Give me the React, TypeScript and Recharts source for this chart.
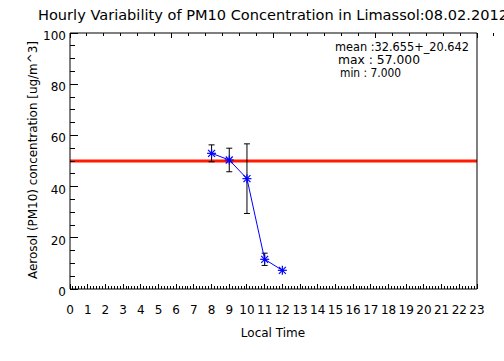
import { ComposedChart, ErrorBar, Line, ReferenceLine, XAxis, YAxis } from "recharts";

// hourly means (ug/m3) and their spread
const hours = [8, 9, 10, 11, 12];
const pm10 = [53.0, 50.4, 43.1, 11.6, 7.3];
const spread = [3.3, 4.6, 13.6, 2.4, null];

const limitValue = 50;
const hourTicks = Array.from({ length: 24 }, (_, i) => i);
const xMinorTicks = Array.from({ length: 23 * 6 + 1 }, (_, i) => i / 6);
const yMinorTicks = Array.from({ length: 21 }, (_, i) => i * 5);

const title = "Hourly Variability of PM10 Concentration in Limassol:08.02.2012";
const statLines = ["mean :32.655+_20.642", "max : 57.000", "min : 7.000"];
const statWidths = [134, 82, 61];

const data = hours.map((h, i) => ({ hour: h, pm10: pm10[i], err: spread[i] }));

const font = "DejaVu Sans, sans-serif";
const W = 504;
const H = 361;

const BottomTick = (props: any) => {
  const { x, y, index } = props;
  const major = index % 6 === 0;
  return (
    <g>
      <line x1={x} y1={y} x2={x} y2={y - (major ? 5 : 3)} stroke="#000" shapeRendering="crispEdges" />
      {major && (
        <text x={x} y={y + 25} textAnchor="middle" fontSize={12} fontFamily={font} fill="#000">
          {hourTicks[index / 6]}
        </text>
      )}
    </g>
  );
};

const TopTick = (props: any) => {
  const { x, y, index } = props;
  const major = index % 6 === 0;
  return <line x1={x} y1={y} x2={x} y2={y + (major ? 5 : 3)} stroke="#000" shapeRendering="crispEdges" />;
};

const LeftTick = (props: any) => {
  const { x, y, payload } = props;
  const major = payload.value % 20 === 0;
  return (
    <g>
      <line x1={x} y1={y} x2={x + (major ? 8 : 5)} y2={y} stroke="#000" shapeRendering="crispEdges" />
      {major && (
        <text x={x - 4} y={y + 7} textAnchor="end" fontSize={12} fontFamily={font} fill="#000">
          {payload.value}
        </text>
      )}
    </g>
  );
};

const RightTick = (props: any) => {
  const { x, y, payload } = props;
  const major = payload.value % 20 === 0;
  return <line x1={x} y1={y} x2={x - (major ? 8 : 5)} y2={y} stroke="#000" shapeRendering="crispEdges" />;
};

const Asterisk = (props: any) => {
  const { cx, cy } = props;
  if (cx == null || cy == null) return null;
  const r = 4.5;
  const d = 3.5;
  return (
    <g stroke="#0000ff" strokeWidth={1.2}>
      <line x1={cx - r} y1={cy} x2={cx + r} y2={cy} />
      <line x1={cx} y1={cy - r} x2={cx} y2={cy + r} />
      <line x1={cx - d} y1={cy - d} x2={cx + d} y2={cy + d} />
      <line x1={cx - d} y1={cy + d} x2={cx + d} y2={cy - d} />
    </g>
  );
};

export default function App() {
  return (
    <div style={{ position: "absolute", left: 0, top: 0, width: W, height: H, background: "#fff" }}>
      <ComposedChart width={W} height={H} data={data} margin={{ top: 0, right: 0, bottom: 0, left: 0 }}>
        <XAxis
          xAxisId="main"
          dataKey="hour"
          type="number"
          domain={[0, 23]}
          ticks={xMinorTicks}
          interval={0}
          height={72}
          tickSize={0}
          tickMargin={0}
          tickLine={false}
          axisLine={{ stroke: "#000" }}
          tick={<BottomTick />}
        />
        <XAxis
          xAxisId="top"
          orientation="top"
          type="number"
          domain={[0, 23]}
          ticks={xMinorTicks}
          interval={0}
          height={33}
          tickSize={0}
          tickMargin={0}
          tickLine={false}
          axisLine={{ stroke: "#000" }}
          tick={<TopTick />}
        />
        <YAxis
          yAxisId="main"
          type="number"
          domain={[0, 100]}
          ticks={yMinorTicks}
          interval={0}
          width={70}
          tickSize={0}
          tickMargin={0}
          tickLine={false}
          axisLine={{ stroke: "#000" }}
          tick={<LeftTick />}
        />
        <YAxis
          yAxisId="right"
          orientation="right"
          type="number"
          domain={[0, 100]}
          ticks={yMinorTicks}
          interval={0}
          width={27}
          tickSize={0}
          tickMargin={0}
          tickLine={false}
          axisLine={{ stroke: "#000" }}
          tick={<RightTick />}
        />
        <ReferenceLine xAxisId="main" yAxisId="main" y={limitValue} stroke="#ff1a00" strokeWidth={3} />
        <Line
          xAxisId="main"
          yAxisId="main"
          dataKey="pm10"
          stroke="#0000ff"
          strokeWidth={1}
          dot={<Asterisk />}
          activeDot={false}
          isAnimationActive={false}
        >
          <ErrorBar dataKey="err" direction="y" width={3} stroke="#000" strokeWidth={1} isAnimationActive={false} />
        </Line>
      </ComposedChart>
      <svg width={W} height={H} style={{ position: "absolute", left: 0, top: 0, pointerEvents: "none" }}>
        <text x={38} y={20} fontSize={13.5} fontFamily={font} fill="#000" textLength={470} lengthAdjust="spacingAndGlyphs">
          {title}
        </text>
        <text
          x={33}
          y={160}
          transform="rotate(-90, 33, 160)"
          textAnchor="middle"
          dominantBaseline="central"
          fontSize={11.5}
          fontFamily={font}
          fill="#000"
          textLength={238}
          lengthAdjust="spacingAndGlyphs"
        >
          Aerosol (PM10) concentration [ug/m^3]
        </text>
        <text x={273} y={337} textAnchor="middle" fontSize={12} fontFamily={font} fill="#000">
          Local Time
        </text>
        {statLines.map((s, i) => (
          <text
            key={s}
            x={i === 0 ? 335 : 338 + (i - 1) * 2}
            y={51 + i * 13}
            fontSize={11.5}
            fontFamily={font}
            fill="#000"
            textLength={statWidths[i]}
            lengthAdjust="spacingAndGlyphs"
          >
            {s}
          </text>
        ))}
      </svg>
    </div>
  );
}
